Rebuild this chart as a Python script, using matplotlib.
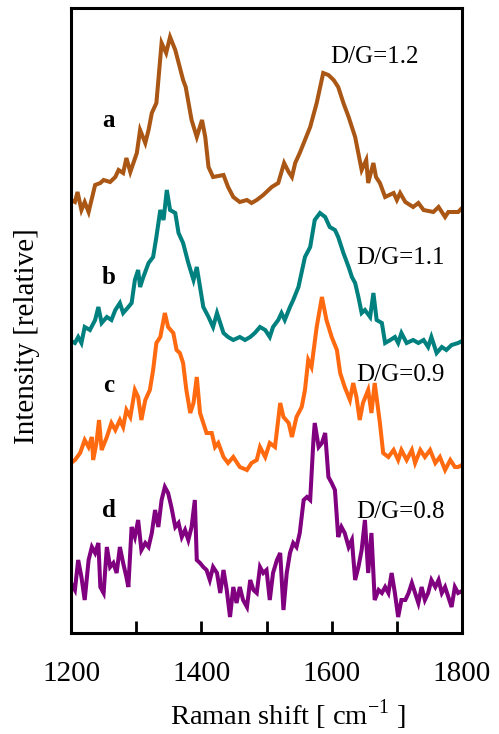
import numpy as np
import matplotlib
matplotlib.use("Agg")
import matplotlib.pyplot as plt

plt.rcParams['font.family'] = ['Liberation Serif', 'DejaVu Serif']
plt.rcParams['mathtext.fontset'] = 'custom'
plt.rcParams['mathtext.rm'] = 'Liberation Serif'

# Raman shift (cm-1) and relative intensity
shift_a = [1200, 1206, 1210, 1216, 1221, 1227, 1237, 1245, 1250, 1260, 1268, 1273, 1280, 1285, 1291, 1301,
           1306, 1314, 1319, 1324, 1331, 1339, 1346, 1352, 1360, 1372, 1376, 1385, 1393, 1401, 1406, 1411,
           1418, 1434, 1441, 1449, 1459, 1470, 1477, 1485, 1495, 1508, 1518, 1527, 1534, 1539, 1544, 1551,
           1559, 1567, 1577, 1587, 1595, 1603, 1610, 1618, 1626, 1636, 1646, 1653, 1656, 1664, 1668, 1674,
           1682, 1695, 1700, 1705, 1713, 1725, 1733, 1741, 1756, 1764, 1774, 1779, 1794, 1800]
int_a = [433, 431, 441, 423, 431, 421, 448, 450, 453, 451, 456, 463, 460, 475, 461, 480,
         503, 490, 503, 520, 530, 590, 580, 596, 583, 553, 546, 513, 496, 513, 496, 466,
         456, 458, 446, 436, 431, 433, 430, 433, 438, 446, 450, 470, 461, 456, 470, 480,
         493, 506, 530, 560, 558, 553, 546, 530, 516, 496, 463, 473, 450, 470, 456, 450,
         436, 440, 433, 440, 431, 426, 430, 423, 421, 426, 416, 421, 421, 425]

shift_b = [1200, 1206, 1211, 1216, 1221, 1229, 1237, 1242, 1247, 1255, 1262, 1268, 1275, 1280, 1288, 1293,
           1298, 1303, 1306, 1311, 1319, 1326, 1331, 1337, 1342, 1347, 1352, 1360, 1365, 1372, 1380, 1388,
           1393, 1398, 1403, 1411, 1418, 1424, 1429, 1434, 1441, 1449, 1459, 1467, 1475, 1482, 1490, 1498,
           1505, 1510, 1518, 1523, 1528, 1536, 1541, 1549, 1559, 1567, 1574, 1582, 1590, 1597, 1605, 1610,
           1618, 1626, 1631, 1636, 1641, 1646, 1651, 1659, 1664, 1669, 1677, 1682, 1690, 1697, 1702, 1707,
           1715, 1725, 1733, 1741, 1748, 1753, 1761, 1769, 1776, 1784, 1794, 1800]
int_b = [292, 290, 296, 290, 306, 303, 313, 326, 310, 316, 313, 323, 330, 320, 326, 330,
         353, 363, 346, 356, 370, 376, 396, 423, 413, 443, 423, 420, 400, 390, 370, 353,
         366, 346, 326, 316, 306, 320, 310, 300, 296, 293, 296, 293, 296, 300, 306, 303,
         296, 306, 313, 320, 313, 326, 333, 346, 376, 386, 413, 420, 416, 406, 403, 396,
         380, 366, 356, 350, 336, 320, 323, 316, 340, 313, 310, 290, 293, 296, 290, 300,
         290, 293, 290, 293, 286, 296, 280, 286, 283, 288, 290, 292]

shift_c = [1200, 1206, 1214, 1221, 1227, 1232, 1234, 1239, 1243, 1247, 1255, 1262, 1268, 1275, 1280, 1285,
           1291, 1298, 1303, 1308, 1314, 1321, 1326, 1331, 1337, 1344, 1349, 1357, 1362, 1367, 1372, 1377,
           1383, 1388, 1393, 1398, 1403, 1408, 1416, 1421, 1426, 1434, 1441, 1449, 1459, 1470, 1477, 1485,
           1490, 1498, 1505, 1513, 1521, 1526, 1534, 1539, 1546, 1554, 1559, 1564, 1569, 1577, 1585, 1592,
           1600, 1608, 1613, 1620, 1628, 1633, 1638, 1643, 1648, 1656, 1661, 1666, 1674, 1679, 1687, 1695,
           1702, 1707, 1715, 1723, 1728, 1736, 1743, 1751, 1759, 1766, 1774, 1782, 1789, 1794, 1800]
int_c = [170, 173, 180, 193, 186, 196, 173, 190, 213, 183, 196, 210, 203, 213, 206, 223,
         216, 243, 236, 213, 233, 243, 263, 290, 296, 320, 306, 300, 283, 280, 270, 243,
         220, 230, 256, 220, 210, 200, 200, 186, 190, 176, 170, 176, 166, 163, 170, 173,
         186, 176, 190, 186, 230, 216, 210, 196, 216, 226, 243, 273, 266, 306, 336, 313,
         296, 283, 260, 246, 233, 250, 236, 213, 230, 243, 220, 250, 210, 180, 176, 183,
         173, 183, 173, 183, 170, 183, 176, 183, 170, 176, 163, 173, 166, 166, 168]

shift_d = [1200, 1206, 1211, 1216, 1221, 1227, 1232, 1237, 1242, 1245, 1250, 1255, 1260, 1265, 1270, 1275,
           1280, 1285, 1288, 1293, 1298, 1303, 1308, 1314, 1319, 1324, 1329, 1334, 1339, 1344, 1349, 1354,
           1360, 1365, 1370, 1375, 1380, 1385, 1390, 1393, 1398, 1403, 1408, 1413, 1418, 1424, 1429, 1434,
           1439, 1444, 1449, 1454, 1459, 1464, 1470, 1475, 1480, 1485, 1490, 1495, 1500, 1505, 1510, 1516,
           1521, 1526, 1531, 1536, 1541, 1546, 1551, 1557, 1562, 1567, 1572, 1574, 1580, 1585, 1590, 1595,
           1600, 1605, 1610, 1615, 1620, 1626, 1631, 1636, 1641, 1646, 1651, 1656, 1661, 1666, 1672, 1677,
           1682, 1687, 1692, 1697, 1702, 1707, 1713, 1718, 1723, 1728, 1733, 1738, 1743, 1748, 1753, 1759,
           1764, 1769, 1774, 1779, 1784, 1789, 1794, 1800]
int_d = [50, 43, 73, 56, 33, 73, 86, 80, 90, 46, 40, 86, 66, 70, 60, 86,
         70, 56, 46, 106, 96, 113, 83, 90, 86, 100, 123, 106, 133, 146, 140, 126,
         106, 110, 96, 103, 93, 106, 133, 73, 70, 66, 63, 53, 66, 60, 40, 63,
         43, 16, 46, 30, 46, 33, 26, 53, 43, 40, 66, 60, 63, 33, 60, 73,
         80, 23, 60, 80, 90, 86, 100, 133, 136, 133, 193, 210, 186, 190, 200, 156,
         150, 143, 96, 106, 100, 86, 93, 53, 66, 83, 113, 60, 100, 33, 43, 40,
         46, 40, 60, 40, 16, 33, 33, 40, 50, 40, 30, 46, 33, 40, 53, 46,
         53, 40, 46, 36, 26, 46, 40, 42]

colors = ['#AA5614', '#00807F', '#FF6A10', '#800080']
letters = ['a', 'b', 'c', 'd']
ratios = ['D/G=1.2', 'D/G=1.1', 'D/G=0.9', 'D/G=0.8']
letter_y = [513, 356, 248, 123]
ratio_pos = [(1665, 576), (1705, 375), (1705, 258), (1705, 121)]

fig = plt.figure(figsize=(4.99, 7.34), dpi=100)
ax = fig.add_axes([0.1423, 0.1376, 0.7836, 0.8515])

series = [(shift_a, int_a), (shift_b, int_b), (shift_c, int_c), (shift_d, int_d)]
for (x, y), c in zip(series, colors):
    ax.plot(x, y, color=c, lw=2.9, solid_joinstyle='miter')

for lab, ly in zip(letters, letter_y):
    ax.text(1258, ly, lab, fontsize=18, fontweight='bold', ha='center', va='center')
for r, (rx, ry) in zip(ratios, ratio_pos):
    ax.text(rx, ry, r, fontsize=18, ha='center', va='center')

ax.set_xlim(1200, 1800)
ax.set_ylim(0, 625)
ax.set_yticks([])
ax.set_xticks(range(1200, 1801, 100))
ax.set_xticklabels(['1200', '', '1400', '', '1600', '', '1800'], fontsize=21)
ax.tick_params(axis='x', direction='in', length=9, width=2, pad=20)
for s in ax.spines.values():
    s.set_linewidth(2.2)

ax.set_xlabel(r'Raman shift [ cm$^{-1}$ ]', fontsize=20.5)
ax.xaxis.set_label_coords(0.555, -0.131)
ax.xaxis.label.set_va('center')
ax.set_ylabel('Intensity [relative]', fontsize=21)
ax.yaxis.set_label_coords(-0.08, 0.475)

fig.savefig('out.png', dpi=100)
